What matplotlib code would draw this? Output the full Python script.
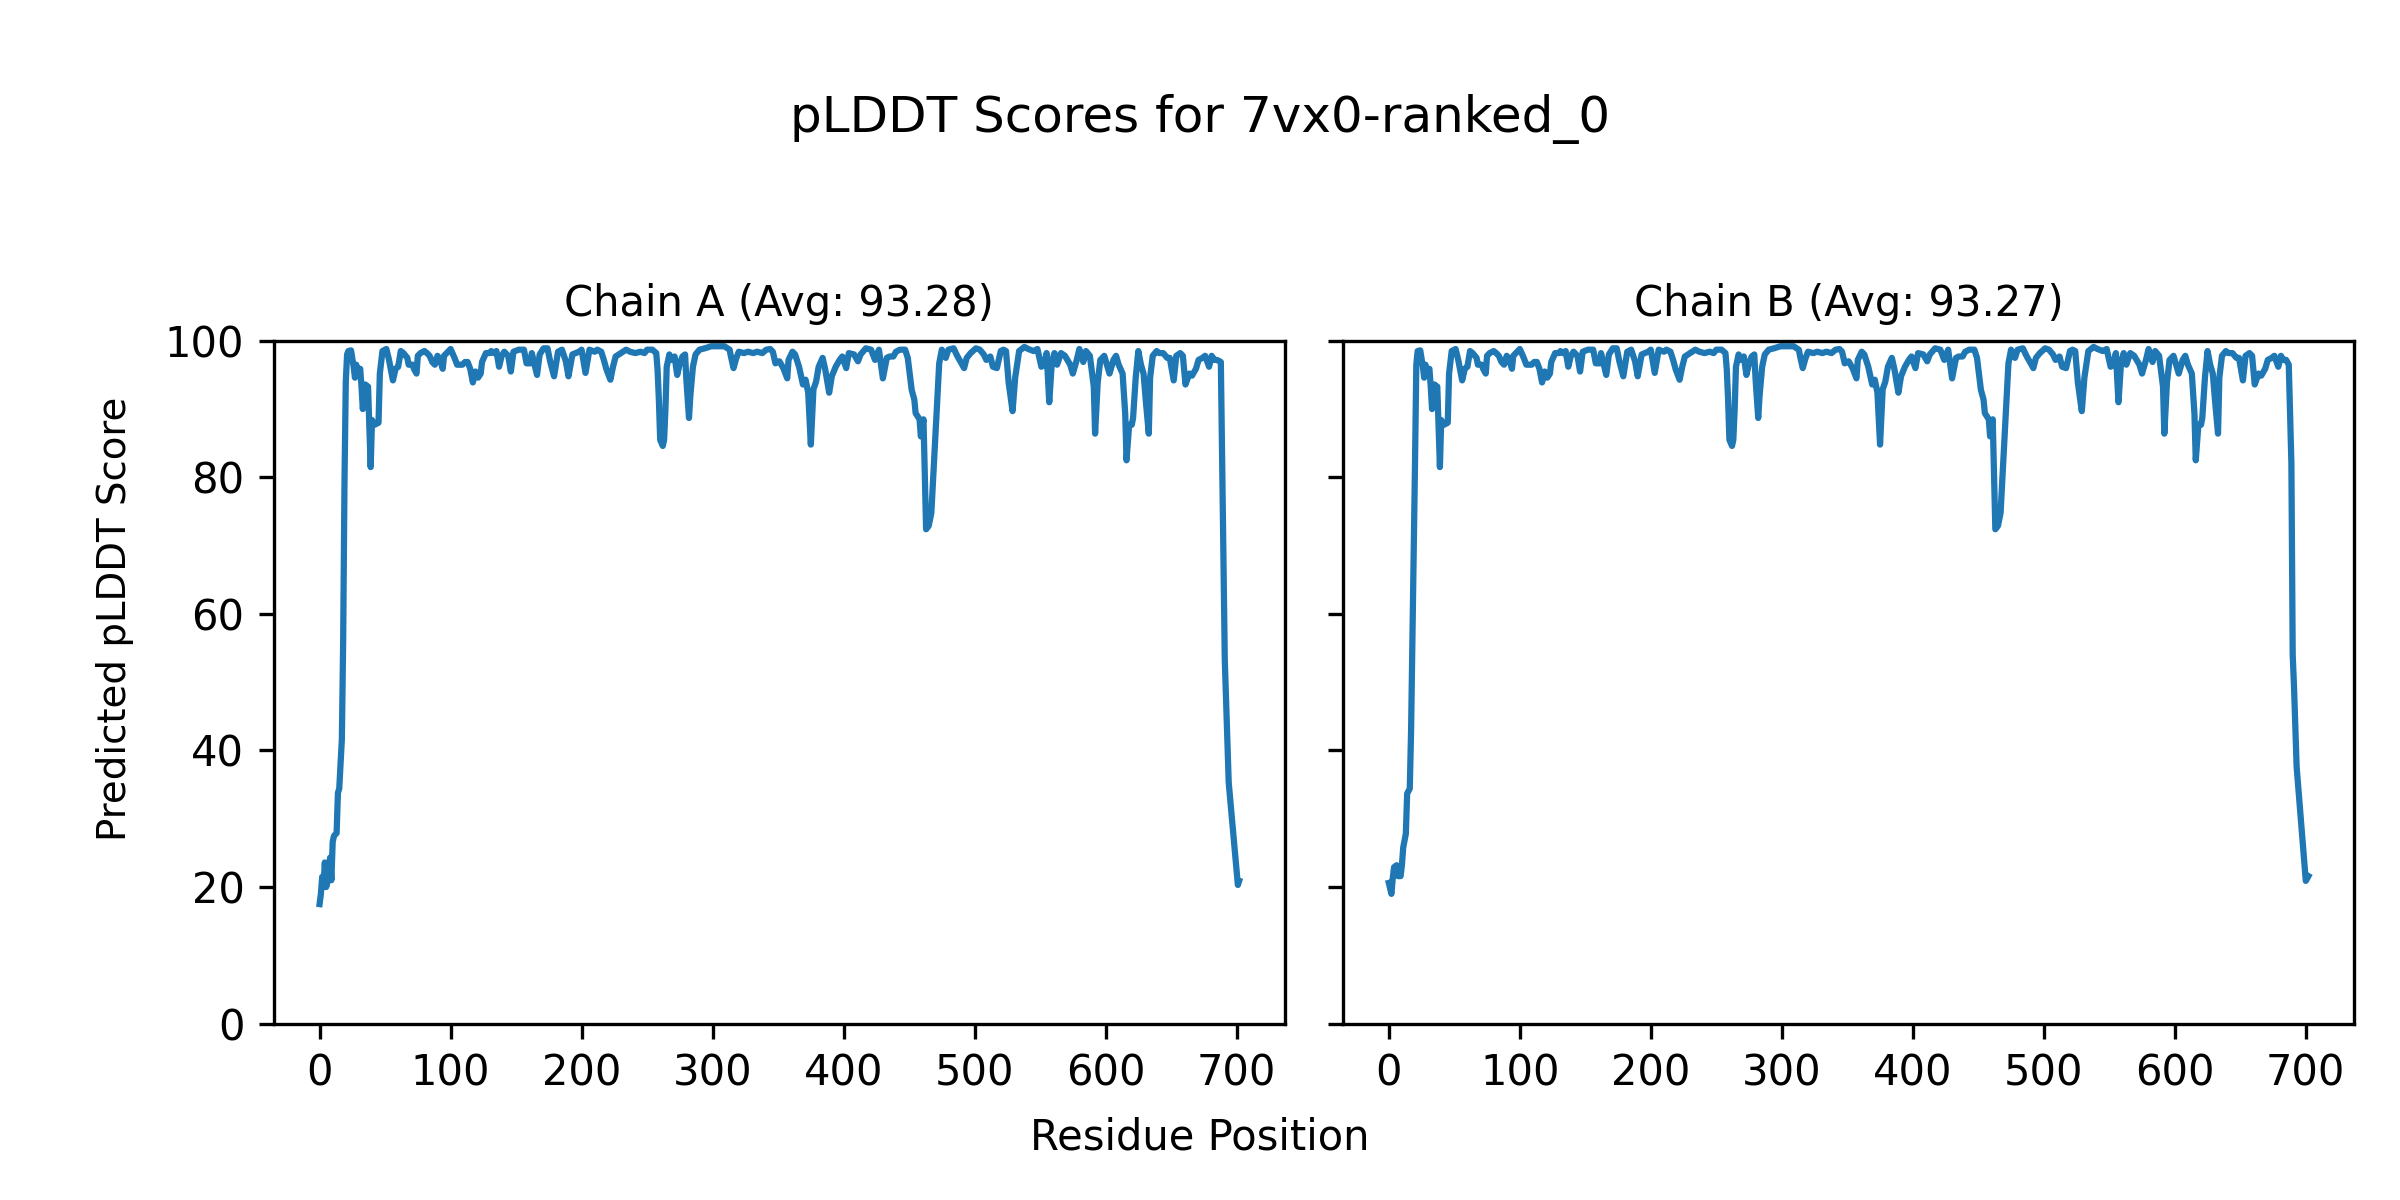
import matplotlib
matplotlib.use("Agg")
import matplotlib.pyplot as plt

model_name = "7vx0-ranked_0"
chain_ids = ["A", "B"]
chain_avgs = [93.28, 93.27]

# N-terminal part (disordered start), per chain
head_res_a = [0, 1, 2, 3, 4, 5, 6, 7, 8, 9, 10, 11, 13, 14, 15, 16, 17, 18, 19, 20, 21, 22, 24]
head_val_a = [17.5, 19.0, 21.5, 20.0, 23.6, 20.0, 20.7, 22.0, 24.3, 21.0, 26.6, 27.5, 27.9, 33.8, 34.4,
              38.0, 41.6, 56.0, 79.0, 94.0, 98.0, 98.5, 98.6]
head_res_b = [0, 2, 3, 4, 6, 7, 9, 10, 11, 12, 13, 14, 16, 17, 18, 20, 21, 22, 24]
head_val_b = [20.6, 19.0, 21.3, 22.9, 23.2, 21.6, 21.6, 23.2, 25.8, 26.8, 27.8, 33.7, 34.4, 42.9, 56.0,
              82.1, 96.5, 98.5, 98.6]

# folded core, same in both chains
core_res = [26, 27, 28, 29, 31, 32, 33, 35, 36, 37, 39, 40, 42, 45, 46, 48, 51, 53, 56, 58,
            60, 62, 64, 67, 68, 71, 72, 74, 75, 77, 80, 82, 84, 86, 88, 90, 92, 94, 95, 97,
            100, 103, 105, 107, 109, 111, 113, 115, 117, 119, 121, 123, 124, 127, 130, 131, 133, 135, 137, 139,
            141, 144, 146, 148, 152, 156, 158, 161, 162, 166, 168, 171, 174, 176, 179, 182, 185, 188, 190, 193,
            198, 200, 203, 206, 210, 212, 215, 217, 219, 222, 224, 226, 230, 234, 237, 241, 245, 248, 250, 254,
            257, 258, 259, 260, 262, 263, 264, 265, 267, 269, 271, 273, 275, 277, 279, 280, 282, 283, 285, 287,
            290, 294, 299, 304, 309, 313, 314, 316, 318, 320, 324, 327, 331, 334, 338, 341, 344, 346, 348, 351,
            354, 357, 358, 361, 363, 366, 369, 371, 373, 375, 377, 379, 381, 384, 386, 389, 391, 394, 397, 399,
            402, 404, 408, 411, 413, 417, 421, 424, 427, 430, 433, 435, 438, 440, 443, 447, 449, 452, 454, 455,
            458, 459, 461, 463, 465, 467, 469, 471, 473, 475, 478, 480, 484, 487, 490, 492, 494, 497, 501, 504,
            507, 509, 512, 514, 517, 520, 522, 524, 526, 529, 531, 534, 538, 541, 545, 548, 551, 553, 555, 557,
            559, 561, 563, 566, 569, 573, 575, 578, 580, 583, 585, 588, 591, 592, 594, 596, 599, 601, 603, 606,
            608, 610, 613, 615, 616, 618, 620, 621, 623, 625, 627, 629, 631, 633, 634, 636, 639, 641, 644, 647,
            649, 652, 654, 657, 659, 661, 664, 666, 669, 671, 674, 676, 679, 681, 683, 685]
core_val = [96.2, 94.6, 96.5, 95.2, 95.9, 93.3, 90.0, 93.6, 93.3, 93.3, 81.5, 88.4, 87.7, 88.0, 95.2, 98.5, 98.8, 97.2, 94.2, 95.9,
            96.2, 98.5, 98.2, 97.5, 96.5, 96.5, 95.9, 95.2, 97.8, 98.2, 98.5, 98.2, 97.8, 96.9, 96.5, 97.8, 97.2, 95.9, 97.8, 98.2,
            98.8, 97.5, 96.5, 96.5, 96.5, 96.9, 96.9, 95.9, 93.9, 95.5, 94.6, 95.2, 96.9, 98.2, 98.2, 98.5, 98.2, 98.5, 96.2, 97.8,
            98.4, 97.8, 95.5, 98.4, 98.7, 98.7, 96.7, 96.7, 98.2, 95.0, 98.0, 98.9, 98.9, 97.0, 94.8, 98.4, 98.7, 97.0, 94.8, 98.0,
            98.4, 98.7, 95.3, 98.7, 98.4, 98.7, 98.4, 97.2, 95.8, 94.3, 96.2, 97.7, 98.2, 98.7, 98.4, 98.2, 98.4, 98.2, 98.7, 98.7,
            98.2, 95.8, 91.4, 85.5, 84.6, 85.5, 89.9, 96.2, 98.0, 97.2, 97.7, 95.0, 96.7, 97.7, 98.0, 94.3, 88.7, 91.9, 96.2, 98.0,
            98.7, 98.9, 99.2, 99.2, 99.2, 98.7, 97.7, 96.0, 97.4, 98.4, 98.2, 98.4, 98.2, 98.4, 98.2, 98.7, 98.8, 98.4, 96.7, 97.0,
            96.0, 94.5, 97.2, 98.4, 98.0, 96.2, 93.6, 94.3, 92.4, 84.8, 92.9, 94.0, 96.2, 97.5, 95.8, 92.4, 94.8, 96.2, 97.2, 97.7,
            96.0, 98.2, 98.0, 97.0, 98.0, 98.9, 98.7, 97.2, 98.7, 94.5, 97.5, 97.7, 97.7, 98.4, 98.7, 98.7, 97.5, 92.8, 91.4, 89.4,
            88.5, 86.0, 88.5, 72.4, 72.9, 74.8, 82.1, 89.4, 96.7, 98.7, 97.5, 98.7, 98.9, 97.7, 96.7, 96.0, 97.5, 98.2, 98.9, 98.7,
            98.0, 97.2, 97.7, 96.2, 96.0, 98.5, 98.7, 98.5, 93.9, 89.7, 94.6, 98.5, 99.1, 98.8, 98.5, 98.8, 96.2, 96.5, 98.2, 91.0,
            96.9, 98.2, 96.5, 98.2, 97.8, 96.5, 95.2, 97.2, 98.8, 96.9, 98.5, 97.8, 93.3, 86.4, 93.9, 97.2, 97.8, 96.5, 95.2, 97.2,
            97.8, 96.5, 95.2, 89.3, 82.5, 87.7, 87.7, 88.7, 94.6, 98.5, 96.5, 95.2, 90.6, 86.4, 94.6, 97.8, 98.5, 98.2, 98.2, 97.5,
            97.5, 94.2, 97.8, 98.2, 97.8, 93.6, 95.2, 94.9, 95.9, 97.2, 97.5, 97.8, 96.2, 97.8, 97.2, 97.2]

# C-terminal drop, per chain
tail_res_a = [688, 689, 691, 692, 694, 701, 702]
tail_val_a = [96.9, 82.0, 53.3, 47.4, 35.3, 20.3, 20.9]
tail_res_b = [687, 689, 690, 691, 693, 700, 702]
tail_val_b = [96.5, 82.1, 54.0, 49.4, 37.6, 20.9, 21.6]

res = [head_res_a + core_res + tail_res_a, head_res_b + core_res + tail_res_b]
vals = [head_val_a + core_val + tail_val_a, head_val_b + core_val + tail_val_b]

fig, axes = plt.subplots(1, 2, figsize=(8, 4), dpi=300, sharey=True)
fig.subplots_adjust(left=0.114, right=0.981, bottom=0.147, top=0.716, wspace=0.057)

for i, ax in enumerate(axes):
    ax.plot(res[i], vals[i], color="C0", linewidth=1.5)
    ax.set_title(f"Chain {chain_ids[i]} (Avg: {chain_avgs[i]:.2f})", fontsize=10)
    ax.set_ylim(0, 100)

fig.suptitle(f"pLDDT Scores for {model_name}", fontsize=12, y=0.922)
fig.supxlabel("Residue Position", fontsize=10, y=0.052, va="center")
fig.supylabel("Predicted pLDDT Score", fontsize=9.3, x=0.048, y=0.484, ha="center", va="center")

fig.savefig("out.png", dpi=300)
